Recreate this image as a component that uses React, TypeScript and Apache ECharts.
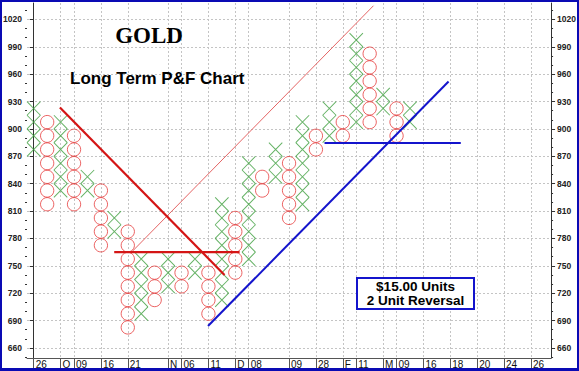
import React, { useEffect, useRef } from 'react';
import * as echarts from 'echarts';

// Point & Figure columns (box bottoms, $15 boxes)
const colTypes = ['X','O','X','O','X','O','X','O','X','O','X','O','X','O','X','O','X','O','X','O','X','O','X','O','X','O','X','O','X'];
const colLow  = [870, 810, 825, 810, 825, 765, 780, 675, 690, 705, 720, 720, 735, 690, 705, 735, 750, 825, 840, 795, 810, 870, 885, 885, 900, 900, 915, 885, 900];
const colHigh = [915, 900, 900, 885, 840, 825, 795, 780, 750, 735, 750, 735, 750, 735, 810, 795, 855, 840, 870, 855, 900, 885, 915, 900, 990, 975, 930, 915, 915];
const BOX = 15;

// axis ticks
const yTicks = [660, 690, 720, 750, 780, 810, 840, 870, 900, 930, 960, 990, 1020];
const labelCols = [0, 2, 3, 5, 7, 10, 11, 13, 15, 16, 19, 21, 23, 24, 26, 27, 29, 31, 33, 35, 37];
const labelTexts = ['26', 'O', '09', '16', '21', 'N', '06', '11', 'D', '08', '09', '28', 'F', '11', 'M', '09', '16', '18', '20', '24', '26'];

// trend lines: [column, price]
const redDownLine = [[1.95, 923.5], [14.2, 740]];
const pinkUpLine = [[7.28, 765], [25.28, 1035]];
const redFlatLine = [[5.99, 765], [15.32, 765]];
const blueUpLine = [[12.97, 684], [30.87, 952]];
const blueFlatLine = [[21.64, 884.5], [31.78, 884.5]];

const NCOLS = 39;

export default function App() {
  const ref = useRef<HTMLDivElement>(null);
  useEffect(() => {
    const chart = echarts.init(ref.current!, null, { renderer: 'svg' });
    const xs: number[][] = [];
    const os: number[][] = [];
    colTypes.forEach((t, k) => {
      for (let v = colLow[k]; v <= colHigh[k]; v += BOX) {
        (t === 'X' ? xs : os).push([k, v + BOX / 2]);
      }
    });
    const N = NCOLS * 2 + 1;
    const catLabels: string[] = new Array(N).fill('');
    labelCols.forEach((c, i) => { catLabels[2 * c + 1] = labelTexts[i]; });
    const cats = catLabels.map((_, i) => String(i));
    const showAt = (idx: number) => catLabels[idx] !== '';
    const minor: number[] = [650];
    yTicks.forEach((t) => { minor.push(t + 10, t + 20); });

    const yMin = 649, yMax = 1038;
    const axisCol = '#333';
    const labelFont = { fontFamily: 'Arial, "Liberation Sans", sans-serif', fontSize: 8.5, fontWeight: 'bold' as const, color: '#222',
      formatter: (v: number) => String(v) };

    const lineSeries = (data: number[][], color: string, width: number) => ({
      type: 'line', xAxisIndex: 1, yAxisIndex: 0, data, symbol: 'none', silent: true,
      lineStyle: { color, width }, z: 5,
    });

    chart.setOption({
      animation: false,
      backgroundColor: '#fff',
      grid: { left: 27, right: 27, top: 3, bottom: 13 },
      xAxis: [
        {
          type: 'category', data: cats, boundaryGap: false, position: 'bottom',
          axisLine: { show: true, lineStyle: { color: '#555', width: 1 } },
          axisTick: { show: true, interval: (i: number) => showAt(i), length: 10, lineStyle: { color: '#555' } },
          axisLabel: {
            show: true, interval: (i: number) => showAt(i), formatter: (_v: string, i: number) => catLabels[i],
            align: 'left', verticalAlign: 'top', margin: 1, padding: [0, 0, 0, 2], lineHeight: 10,
            fontFamily: 'Arial, "Liberation Sans", sans-serif', fontSize: 10, color: '#111',
          },
          splitLine: { show: true, interval: (i: number) => showAt(i), lineStyle: { color: '#c4c4c4', type: [2, 2], width: 1 } },
        },
        { type: 'value', min: -0.5, max: NCOLS - 0.5, show: false },
      ],
      yAxis: [
        {
          type: 'value', position: 'left', min: yMin, max: yMax,
          axisLine: { show: true, lineStyle: { color: axisCol } },
          axisTick: { show: true, customValues: yTicks, length: 4, lineStyle: { color: axisCol } },
          axisLabel: { show: true, customValues: yTicks, margin: 5, ...labelFont },
          splitLine: { show: true, lineStyle: { color: '#c4c4c4', type: [2, 2], width: 1 } },
        },
        {
          type: 'value', position: 'right', min: yMin, max: yMax,
          axisLine: { show: true, lineStyle: { color: axisCol } },
          axisTick: { show: true, customValues: yTicks, length: 4, lineStyle: { color: axisCol } },
          axisLabel: { show: true, customValues: yTicks, margin: 6, ...labelFont },
          splitLine: { show: false },
        },
        {
          type: 'value', position: 'left', min: yMin, max: yMax,
          axisLine: { show: false },
          axisTick: { show: true, customValues: minor, length: 2, lineStyle: { color: axisCol } },
          axisLabel: { show: false }, splitLine: { show: false },
        },
        {
          type: 'value', position: 'right', min: yMin, max: yMax,
          axisLine: { show: false },
          axisTick: { show: true, customValues: minor, length: 2, lineStyle: { color: axisCol } },
          axisLabel: { show: false }, splitLine: { show: false },
        },
      ],
      series: [
        {
          type: 'scatter', xAxisIndex: 1, yAxisIndex: 0, data: xs, silent: true,
          symbol: 'path://M0,0L10,10M10,0L0,10', symbolSize: [13.4, 13.7],
          itemStyle: { color: 'none', borderColor: '#3f9f3f', borderWidth: 1 }, z: 3,
        },
        {
          type: 'scatter', xAxisIndex: 1, yAxisIndex: 0, data: os, silent: true,
          symbol: 'circle', symbolSize: 13.3,
          itemStyle: { color: 'rgba(255,255,255,0)', borderColor: '#e63a3a', borderWidth: 1 }, z: 3,
        },
        lineSeries(pinkUpLine, '#e46464', 1),
        lineSeries(redDownLine, '#d41515', 2.2),
        lineSeries(redFlatLine, '#d41515', 2.2),
        lineSeries(blueUpLine, '#1414cc', 2),
        lineSeries(blueFlatLine, '#1414cc', 2),
      ],
      graphic: [
        {
          type: 'text', x: 149, y: 35, z: 10,
          style: { text: 'GOLD', font: 'bold 23px "Liberation Serif", "Times New Roman", serif', fill: '#000',
            align: 'center', verticalAlign: 'middle', textAlign: 'center', textVerticalAlign: 'middle' },
        },
        {
          type: 'text', x: 70, y: 78, z: 10,
          style: { text: 'Long Term P&F Chart', font: 'bold 17px "Liberation Sans", Arial, sans-serif', fill: '#000',
            align: 'left', verticalAlign: 'middle', textAlign: 'left', textVerticalAlign: 'middle' },
        },
        {
          type: 'rect', z: 10, shape: { x: 357, y: 278, width: 117, height: 31 },
          style: { fill: '#fff', stroke: '#1414cc', lineWidth: 2 },
        },
        {
          type: 'text', x: 415.5, y: 286, z: 11,
          style: { text: '$15.00 Units', font: 'bold 13.5px "Liberation Sans", Arial, sans-serif', fill: '#000',
            align: 'center', verticalAlign: 'middle', textAlign: 'center', textVerticalAlign: 'middle' },
        },
        {
          type: 'text', x: 415.5, y: 300.5, z: 11,
          style: { text: '2 Unit Reversal', font: 'bold 13.5px "Liberation Sans", Arial, sans-serif', fill: '#000',
            align: 'center', verticalAlign: 'middle', textAlign: 'center', textVerticalAlign: 'middle' },
        },
      ],
    });
    return () => chart.dispose();
  }, []);

  return (
    <div style={{ position: 'fixed', left: 0, top: 0, width: 579, height: 371, background: '#fff' }}>
      <div ref={ref} style={{ position: 'absolute', left: 0, top: 0, width: 579, height: 371 }} />
      <div style={{ position: 'absolute', left: 0, top: 0, width: 579, height: 371, boxSizing: 'border-box',
        borderStyle: 'solid', borderColor: '#0a0ab4', borderWidth: '2px 2px 3px 2px', pointerEvents: 'none' }} />
    </div>
  );
}
